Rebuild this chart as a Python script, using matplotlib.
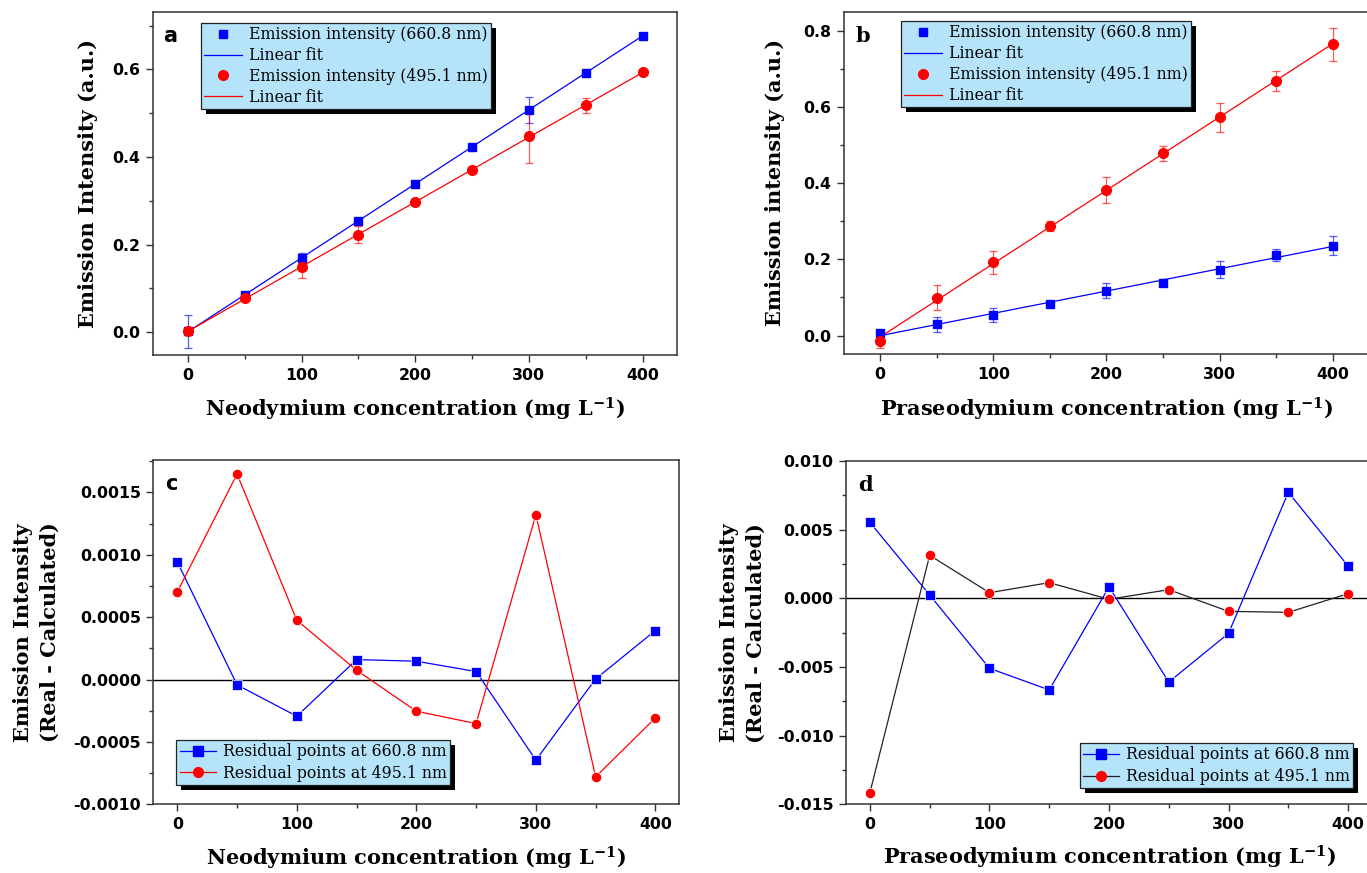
import numpy as np
import matplotlib
matplotlib.use('Agg')
import matplotlib.pyplot as plt
from matplotlib.lines import Line2D
from matplotlib.patches import Rectangle
from matplotlib.ticker import MultipleLocator, FormatStrFormatter

# ---------------- data ----------------
conc = [0, 50, 100, 150, 200, 250, 300, 350, 400]

nd_660 = [0.002, 0.086, 0.169, 0.253, 0.339, 0.423, 0.508, 0.592, 0.677]
nd_660_err = [0.037, 0.004, 0.012, 0.006, 0.004, 0.004, 0.030, 0.004, 0.003]
nd_495 = [0.002, 0.077, 0.149, 0.223, 0.297, 0.371, 0.447, 0.518, 0.593]
nd_495_err = [0.003, 0.004, 0.025, 0.019, 0.004, 0.004, 0.061, 0.017, 0.004]

pr_660 = [0.007, 0.030, 0.055, 0.082, 0.118, 0.139, 0.173, 0.212, 0.236]
pr_660_err = [0.006, 0.020, 0.018, 0.005, 0.020, 0.010, 0.022, 0.016, 0.024]
pr_495 = [-0.013, 0.099, 0.192, 0.287, 0.382, 0.478, 0.573, 0.668, 0.764]
pr_495_err = [0.019, 0.033, 0.031, 0.013, 0.035, 0.020, 0.038, 0.027, 0.043]

nd_res_660 = [0.000943, -0.0000427, -0.000294, 0.000160, 0.000147, 0.000064, -0.000646, 0.000005, 0.000393]
nd_res_495 = [0.000702, 0.001648, 0.000475, 0.000075, -0.000254, -0.000353, 0.001322, -0.000780, -0.000307]

pr_res_660 = [0.00553, 0.00024, -0.00510, -0.00667, 0.00083, -0.00610, -0.00255, 0.00772, 0.00235]
pr_res_495 = [-0.01415, 0.00313, 0.00041, 0.00114, -0.00007, 0.00063, -0.00095, -0.00102, 0.00034]

# ---------------- style ----------------
plt.rcParams['mathtext.fontset'] = 'dejavuserif'
plt.rcParams['mathtext.default'] = 'bf'

BLUE = '#0000ff'
RED = '#ff0000'
LEG_FACE = '#b5e3fa'
SPINE = '#333333'
LABEL_FONT = dict(family='DejaVu Serif', weight='bold', size=15)
LEG_FONT = dict(family='DejaVu Serif', size=11.3)

fig = plt.figure(figsize=(13.67, 8.73), dpi=100)
W, H = 1367, 873


def add_ax(l, r, t, b):
    return fig.add_axes([l / W, 1 - b / H, (r - l) / W, (b - t) / H])


axa = add_ax(152.7, 676.7, 12, 355)
axb = add_ax(844, 1369, 11.5, 354.3)
axc = add_ax(153.4, 679.3, 460, 804.3)
axd = add_ax(846, 1372, 461, 804.3)


def style(ax, ymaj, ymin, fmt):
    for s in ax.spines.values():
        s.set_color(SPINE)
        s.set_linewidth(1.1)
    ax.xaxis.set_major_locator(MultipleLocator(100))
    ax.xaxis.set_minor_locator(MultipleLocator(50))
    ax.yaxis.set_major_locator(MultipleLocator(ymaj))
    ax.yaxis.set_minor_locator(MultipleLocator(ymin))
    ax.yaxis.set_major_formatter(FormatStrFormatter(fmt))
    ax.tick_params(which='both', direction='out', top=False, right=False,
                   color=SPINE, width=1.0)
    ax.tick_params(which='major', length=5, pad=4)
    ax.tick_params(which='minor', length=3)
    for lab in ax.get_xticklabels() + ax.get_yticklabels():
        lab.set_fontfamily('DejaVu Sans')
        lab.set_fontweight('bold')
        lab.set_fontsize(11.3)


def labels(ax, xlabel, ylabel, ylx, xly=-0.16):
    ax.set_xlabel(xlabel, va='center', **LABEL_FONT)
    ax.set_ylabel(ylabel, va='center', ha='center', linespacing=1.45, **LABEL_FONT)
    ax.xaxis.set_label_coords(0.5, xly)
    ax.yaxis.set_label_coords(ylx, 0.5)


def fit_panel(ax, y1, e1, y2, e2):
    c = np.array(conc, dtype=float)
    for y, e, col, mk, ms in [(y1, e1, BLUE, 's', 6.2), (y2, e2, RED, 'o', 7)]:
        p = np.polyfit(c, y, 1)
        ax.plot(c, np.polyval(p, c), color=col, lw=0.9, zorder=2)
        ax.errorbar(c, y, yerr=e, fmt='none', ecolor=col, elinewidth=0.9,
                    capsize=2.6, capthick=0.9, alpha=0.65, zorder=3)
        ax.plot(c, y, linestyle='none', marker=mk, ms=ms, color=col,
                mec=col, zorder=4)


def add_legend(ax, handles, texts, loc, anchor, hl, ls=0.3):
    leg = ax.legend(handles, texts, loc=loc, bbox_to_anchor=anchor,
                    borderaxespad=0, prop=LEG_FONT, frameon=True,
                    fancybox=False, framealpha=1, facecolor=LEG_FACE,
                    edgecolor='#222222', handlelength=hl, handletextpad=0.45,
                    borderpad=0.2, labelspacing=ls, numpoints=1)
    leg.get_frame().set_linewidth(0.9)
    return leg


# ---- panel a ----
fit_panel(axa, nd_660, nd_660_err, nd_495, nd_495_err)
axa.set_xlim(-31, 430)
axa.set_ylim(-0.052, 0.731)
style(axa, 0.2, 0.1, '%.1f')
labels(axa, 'Neodymium concentration (mg L$^{-1}$)', 'Emission Intensity (a.u.)', -0.1235)

h_fit = [Line2D([], [], ls='none', marker='s', ms=6.2, color=BLUE),
         Line2D([], [], color=BLUE, lw=0.9),
         Line2D([], [], ls='none', marker='o', ms=7, color=RED),
         Line2D([], [], color=RED, lw=0.9)]
t_fit = ['Emission intensity (660.8 nm)', 'Linear fit',
         'Emission intensity (495.1 nm)', 'Linear fit']
leg_a = add_legend(axa, h_fit, t_fit, 'upper left', (0.092, 0.968), 2.4, 0.25)

# ---- panel b ----
fit_panel(axb, pr_660, pr_660_err, pr_495, pr_495_err)
axb.set_xlim(-32, 432)
axb.set_ylim(-0.049, 0.85)
style(axb, 0.2, 0.1, '%.1f')
labels(axb, 'Praseodymium concentration (mg L$^{-1}$)', 'Emission intensity (a.u.)', -0.131)
leg_b = add_legend(axb, h_fit, t_fit, 'upper left', (0.109, 0.972), 2.4, 0.25)

# ---- panel c ----
axc.axhline(0, color='black', lw=1.0, zorder=1)
axc.plot(conc, nd_res_660, color=BLUE, lw=0.9, marker='s', ms=6.8, mec='white', mew=0.5, mfc=BLUE, zorder=3)
axc.plot(conc, nd_res_495, color=RED, lw=0.9, marker='o', ms=7.4, mec='white', mew=0.5, mfc=RED, zorder=3)
axc.set_xlim(-20, 420)
axc.set_ylim(-0.001, 0.00176)
style(axc, 0.0005, 0.00025, '%.4f')
labels(axc, 'Neodymium concentration (mg L$^{-1}$)', 'Emission Intensity\n(Real - Calculated)', -0.223, -0.156)
h_c = [Line2D([], [], color=BLUE, lw=0.9, marker='s', ms=6.5),
       Line2D([], [], color=RED, lw=0.9, marker='o', ms=7)]
t_res = ['Residual points at 660.8 nm', 'Residual points at 495.1 nm']
leg_c = add_legend(axc, h_c, t_res, 'lower left', (0.0437, 0.056), 2.3)

# ---- panel d ----
axd.axhline(0, color='black', lw=1.0, zorder=1)
axd.plot(conc, pr_res_660, color=BLUE, lw=0.9, marker='s', ms=6.8, mec='white', mew=0.5, mfc=BLUE, zorder=3)
axd.plot(conc, pr_res_495, color='#222222', lw=0.9, marker='o', ms=7.4, mec='white', mew=0.5, mfc=RED, zorder=3)
axd.set_xlim(-20, 420)
axd.set_ylim(-0.015, 0.010)
style(axd, 0.005, 0.0025, '%.3f')
labels(axd, 'Praseodymium concentration (mg L$^{-1}$)', 'Emission Intensity\n(Real - Calculated)', -0.197, -0.156)
h_d = [Line2D([], [], color=BLUE, lw=0.9, marker='s', ms=6.5),
       Line2D([], [], color='#222222', lw=0.9, marker='o', ms=7, mfc=RED, mec=RED)]
leg_d = add_legend(axd, h_d, t_res, 'lower right', (0.9645, 0.0466), 2.3)

# ---- panel letters ----
axa.text(0.0197, 0.913, 'a', transform=axa.transAxes, family='DejaVu Sans', weight='bold', size=15, va='baseline')
axb.text(0.021, 0.912, 'b', transform=axb.transAxes, family='DejaVu Serif', weight='bold', size=15, va='baseline')
axc.text(0.022, 0.913, 'c', transform=axc.transAxes, family='DejaVu Sans', weight='bold', size=15, va='baseline')
axd.text(0.024, 0.912, 'd', transform=axd.transAxes, family='DejaVu Serif', weight='bold', size=15, va='baseline')

# ---- legend drop shadows ----
fig.canvas.draw()
for ax, leg in [(axa, leg_a), (axb, leg_b), (axc, leg_c), (axd, leg_d)]:
    bb = leg.get_frame().get_window_extent()
    inv = ax.transAxes.inverted()
    (x0, y0) = inv.transform((bb.x0 + 5, bb.y0 - 5))
    (x1, y1) = inv.transform((bb.x1 + 5, bb.y1 - 5))
    ax.add_patch(Rectangle((x0, y0), x1 - x0, y1 - y0, transform=ax.transAxes,
                           facecolor='black', edgecolor='none', zorder=4.9,
                           clip_on=False))

fig.savefig('out.png', dpi=100)
